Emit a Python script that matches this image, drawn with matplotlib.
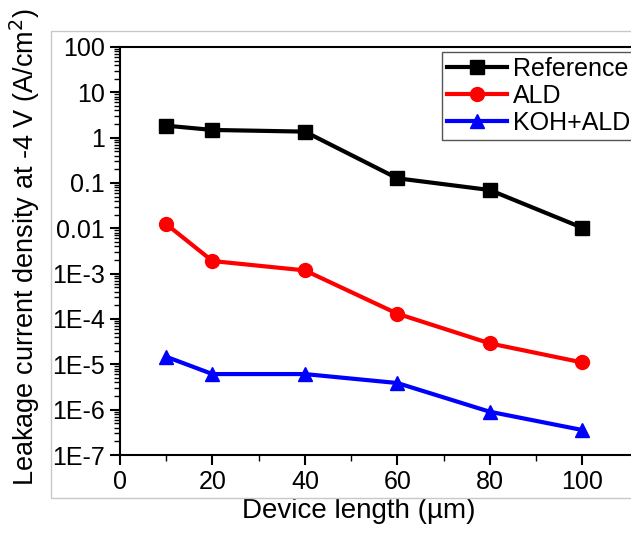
import matplotlib.pyplot as plt
from matplotlib.patches import Rectangle
from matplotlib.ticker import LogLocator, NullFormatter

plt.rcParams['font.family'] = ['Liberation Sans', 'DejaVu Sans']

# device lengths (um) and leakage current density at -4 V (A/cm^2)
length = [10, 20, 40, 60, 80, 100]
reference = [1.84, 1.48, 1.36, 0.127, 0.070, 0.0103]
ald = [0.0124, 0.0019, 0.00118, 1.31e-4, 2.9e-5, 1.1e-5]
koh_ald = [1.47e-5, 6.1e-6, 6.1e-6, 3.87e-6, 9.0e-7, 3.56e-7]

series = [
    ("Reference", reference, "black", "s"),
    ("ALD", ald, "red", "o"),
    ("KOH+ALD", koh_ald, "blue", "^"),
]

W, H = 631, 533
fig = plt.figure(figsize=(W / 100, H / 100), dpi=100)

# light frame around the plot layer
fig.patches.append(Rectangle((51 / W, 1 - 498 / H), 600 / W, 467 / H,
                             transform=fig.transFigure, fill=False,
                             edgecolor="#c8c8c8", linewidth=1))

ax = fig.add_axes([120 / W, 1 - 455 / H, 520 / W, 408 / H])

for name, vals, col, mk in series:
    ax.plot(length, vals, color=col, marker=mk, lw=3, ms=10, label=name)

ax.set_yscale("log")
ax.set_ylim(1e-7, 100)
ax.set_xlim(0, 112.5)
ax.set_xticks([0, 20, 40, 60, 80, 100])
ax.set_xticks([10, 30, 50, 70, 90], minor=True)

yt = [1e-7, 1e-6, 1e-5, 1e-4, 1e-3, 0.01, 0.1, 1, 10, 100]
ylab = ["1E-7", "1E-6", "1E-5", "1E-4", "1E-3", "0.01", "0.1", "1", "10", "100"]
ax.set_yticks(yt)
ax.set_yticklabels(ylab)
ax.yaxis.set_minor_locator(LogLocator(base=10, subs=range(2, 10), numticks=100))
ax.yaxis.set_minor_formatter(NullFormatter())

ax.tick_params(which="major", direction="out", length=7, width=1.5,
               labelsize=18, pad=4)
ax.tick_params(which="minor", direction="out", length=4, width=1)
for s in ax.spines.values():
    s.set_linewidth(1.5)

ax.set_xlabel("Device length (µm)", fontsize=20)
ax.xaxis.set_label_coords(0.46, -0.105)
ax.set_ylabel("Leakage current density at -4 V (A/cm$^2$)", fontsize=19.5)
ax.yaxis.set_label_coords(-0.15, 0.51)

leg = ax.legend(loc="upper right", bbox_to_anchor=(1.0, 1.0), fontsize=18,
                handlelength=2.4, handletextpad=0.25, borderpad=0.2,
                labelspacing=0.12, fancybox=False, edgecolor="#555555",
                framealpha=1, borderaxespad=0.2)
leg.get_frame().set_linewidth(1)

fig.savefig("out.png", dpi=100)
